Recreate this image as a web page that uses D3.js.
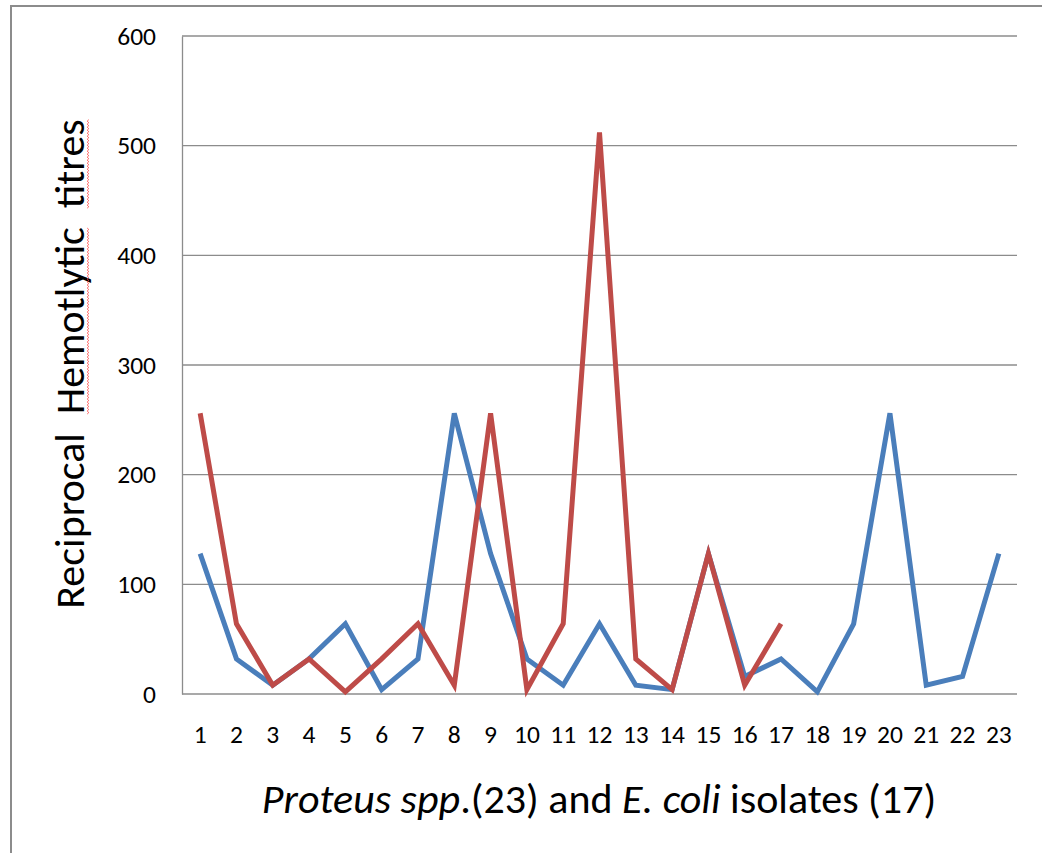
<!DOCTYPE html>
<html>
<head>
<meta charset="utf-8">
<script src="https://cdn.jsdelivr.net/npm/d3@7"></script>
<style>
  body { margin: 0; background: #fff; }
  svg text { font-family: Carlito, Calibri, Lato, "Open Sans", sans-serif; fill: #000; }
</style>
</head>
<body>
<div id="chart"></div>
<script>
// --- data ---
const isolates = d3.range(1, 24).map(String);
const proteus = [128, 32, 8, 32, 64, 4, 32, 256, 128, 32, 8, 64, 8, 4, 128, 16, 32, 2, 64, 256, 8, 16, 128];
const ecoli = [256, 64, 8, 32, 2, 32, 64, 8, 256, 4, 64, 512, 32, 4, 128, 8, 64];
const yTicks = [0, 100, 200, 300, 400, 500, 600];

const width = 1042, height = 853;
const margin = { top: 36, right: 25, bottom: 159, left: 182 };

const svg = d3.select("#chart").append("svg")
  .attr("width", width).attr("height", height);

// outer frame
svg.append("rect")
  .attr("x", 11).attr("y", 6).attr("width", width + 20).attr("height", height + 20)
  .attr("fill", "none").attr("stroke", "#8c8c8c").attr("stroke-width", 2);

const x = d3.scaleBand().domain(isolates)
  .range([margin.left, width - margin.right]);
const y = d3.scaleLinear().domain([0, 600])
  .range([height - margin.bottom, margin.top]);

// grid lines
svg.append("g").selectAll("line").data(yTicks).join("line")
  .attr("x1", margin.left).attr("x2", width - margin.right)
  .attr("y1", d => y(d)).attr("y2", d => y(d))
  .attr("stroke", "#8c8c8c").attr("stroke-width", 1.3);

// y axis
const yAxis = svg.append("g")
  .attr("transform", `translate(${margin.left},0)`)
  .call(d3.axisLeft(y).tickValues(yTicks).tickSize(0).tickPadding(26));
yAxis.select(".domain").attr("stroke", "#8c8c8c").attr("stroke-width", 1.3);
yAxis.selectAll("text").style("font-size", "25.5px");

// x axis
const xAxis = svg.append("g")
  .attr("transform", `translate(0,${y(0)})`)
  .call(d3.axisBottom(x).tickSize(0).tickPadding(31));
xAxis.select(".domain").remove();
xAxis.selectAll("text").style("font-size", "25.5px");

// lines
const line = d3.line()
  .x((d, i) => x(isolates[i]) + x.bandwidth() / 2)
  .y(d => y(d));

svg.append("path").datum(proteus)
  .attr("fill", "none").attr("stroke", "#4a7ebb").attr("stroke-width", 5)
  .attr("stroke-linejoin", "miter").attr("d", line);

svg.append("path").datum(ecoli)
  .attr("fill", "none").attr("stroke", "#be4b48").attr("stroke-width", 5)
  .attr("stroke-linejoin", "miter").attr("d", line);

// y title
const yTitlePos = "translate(84,364) rotate(-90)";
const yt = svg.append("text")
  .attr("transform", yTitlePos)
  .attr("text-anchor", "middle")
  .style("font-size", "42px");
yt.append("tspan").text("Reciprocal\u00a0 ");
yt.append("tspan").attr("id", "w1").text("Hemotlytic");
yt.append("tspan").text("\u00a0 ");
yt.append("tspan").attr("id", "w2").text("titres");

// red spell-check squiggles under the misspelt words
["#w1", "#w2"].forEach(id => {
  const node = yt.select(id).node();
  const n = node.getNumberOfChars();
  const s = node.getStartPositionOfChar(0), e = node.getEndPositionOfChar(n - 1);
  const pts = [];
  for (let t = s.x, k = 0; t <= e.x; t += 1.5, k++) pts.push([t, 4 + (k % 2 ? 0.8 : -0.8)]);
  svg.append("path")
    .attr("transform", yTitlePos)
    .attr("d", d3.line()(pts))
    .attr("fill", "none").attr("stroke", "#ff3b3b").attr("stroke-width", 0.8);
});

// x title
const xt = svg.append("text")
  .attr("x", 599).attr("y", 813)
  .attr("text-anchor", "middle")
  .style("font-size", "42px");
xt.append("tspan").style("font-style", "italic").text("Proteus spp");
xt.append("tspan").text(".(23) and ");
xt.append("tspan").style("font-style", "italic").text("E. coli");
xt.append("tspan").text(" isolates (17)");
</script>
</body>
</html>
